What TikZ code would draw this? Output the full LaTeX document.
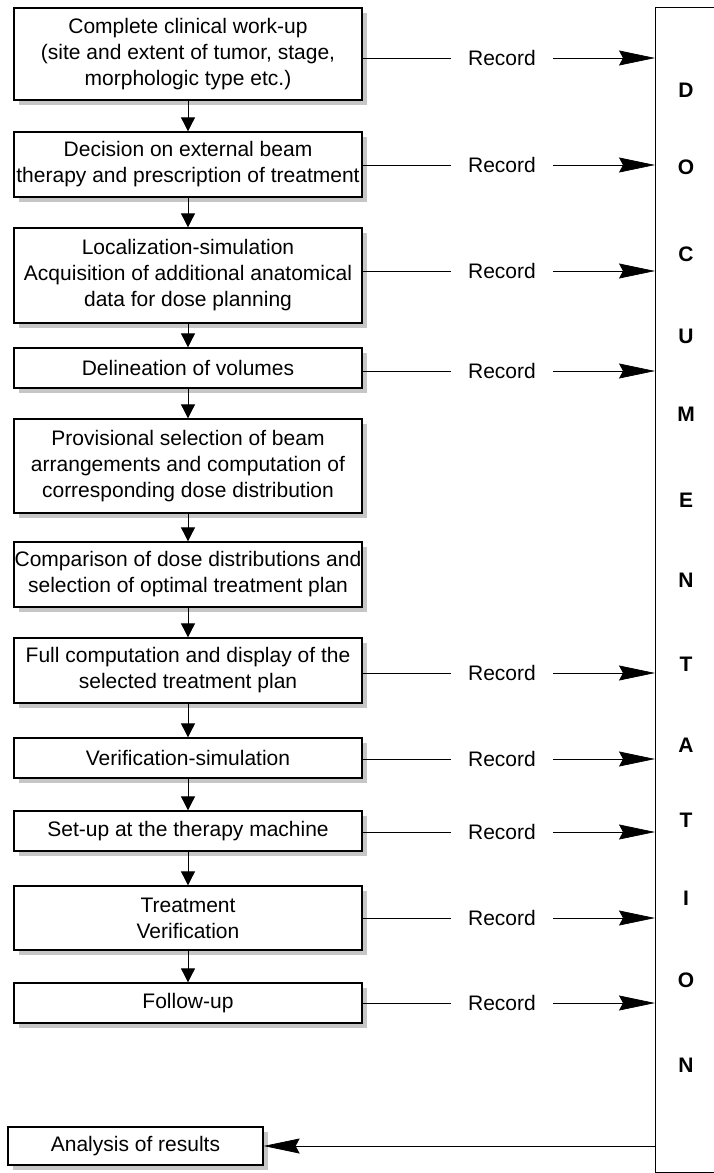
\documentclass[tikz,border=0pt]{standalone}
\usepackage{fontspec}
\setmainfont{Liberation Sans}
\usetikzlibrary{arrows.meta,shadows}
\begin{document}
\begin{tikzpicture}[x=1pt,y=-1pt,
 box/.style={draw, line width=1.3pt, fill=white, align=center, inner sep=0pt,
   font=\fontsize{21}{26}\selectfont,
   drop shadow={fill=gray!45, opacity=1, shadow xshift=5pt, shadow yshift=-5pt}},
 flow/.style={line width=0.8pt, -{Triangle[length=14pt,width=14pt]}},
 rec/.style={line width=0.6pt},
 recarrow/.style={line width=0.7pt, -{Stealth[length=36pt,width=15pt,inset=4pt]}},
 lbl/.style={font=\fontsize{21}{24}\selectfont, inner xsep=17pt, inner ysep=2pt},
 letter/.style={font=\fontsize{21}{24}\selectfont\bfseries}
]
\useasboundingbox (0,0) rectangle (713,1173);

\node[draw, line width=1pt, minimum width=70pt, minimum height=1165pt, anchor=north west, inner sep=0pt] (doc) at (655,7) {};

\node[box, minimum width=348pt, minimum height=92pt] (b1) at (188,54) {Complete clinical work-up\\(site and extent of tumor, stage,\\morphologic type etc.)};
\node[box, minimum width=348pt, minimum height=65pt] (b2) at (188,164.5) {Decision on external beam\\therapy and prescription of treatment};
\node[box, minimum width=348pt, minimum height=95pt] (b3) at (188,275.5) {Localization-simulation\\Acquisition of additional anatomical\\data for dose planning};
\node[box, minimum width=348pt, minimum height=40pt] (b4) at (188,368) {Delineation of volumes};
\node[box, minimum width=348pt, minimum height=94pt] (b5) at (188,466) {Provisional selection of beam\\arrangements and computation of\\corresponding dose distribution};
\node[box, minimum width=348pt, minimum height=65pt] (b6) at (188,574.5) {Comparison of dose distributions and\\selection of optimal treatment plan};
\node[box, minimum width=348pt, minimum height=65pt] (b7) at (188,670.5) {Full computation and display of the\\selected treatment plan};
\node[box, minimum width=348pt, minimum height=40pt] (b8) at (188,758) {Verification-simulation};
\node[box, minimum width=348pt, minimum height=40pt] (b9) at (188,831) {Set-up at the therapy machine};
\node[box, minimum width=348pt, minimum height=64pt] (b10) at (188,918) {Treatment\\Verification};
\node[box, minimum width=348pt, minimum height=40pt] (b11) at (188,1003) {Follow-up};
\node[box, minimum width=255pt, minimum height=38pt] (b12) at (135.5,1146) {Analysis of results};

\foreach \a/\b in {b1/b2,b2/b3,b3/b4,b4/b5,b5/b6,b6/b7,b7/b8,b8/b9,b9/b10,b10/b11}
  \draw[flow] (\a) -- (\b);

\foreach \b/\y in {b1/58,b2/165,b3/271,b4/371,b7/673,b8/759,b9/832,b10/918,b11/1003}{
  \node[lbl] (r\b) at (502,\y) {Record};
  \draw[rec] (\b.east |- r\b) -- (r\b.west);
  \draw[recarrow] (r\b.east) -- (doc.west |- r\b);
}

\draw[recarrow] (doc.west |- b12) -- (b12.east);

\foreach \l/\y [count=\i] in {D/90,O/167,C/254,U/336,M/414,E/500,N/580,T/664,A/745,T/820,I/898,O/980,N/1065}
  \node[letter] (l\i) at (686,\y) {\l};
\end{tikzpicture}
\end{document}
